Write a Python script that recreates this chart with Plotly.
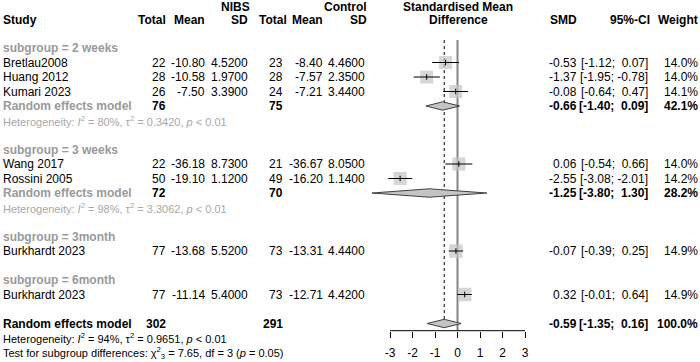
import plotly.graph_objects as go

# ---------------- data ----------------
groups = ["2 weeks", "3 weeks", "3month", "6month"]
studies = ["Bretlau2008", "Huang 2012", "Kumari 2023", "Wang 2017", "Rossini 2005",
           "Burkhardt 2023", "Burkhardt 2023"]
study_group = ["2 weeks", "2 weeks", "2 weeks", "3 weeks", "3 weeks", "3month", "6month"]
nibs_total = [22, 28, 26, 22, 50, 77, 77]
nibs_mean = [-10.80, -10.58, -7.50, -36.18, -19.10, -13.68, -11.14]
nibs_sd = [4.52, 1.97, 3.39, 8.73, 1.12, 5.52, 5.40]
ctrl_total = [23, 28, 24, 21, 49, 73, 73]
ctrl_mean = [-8.40, -7.57, -7.21, -36.67, -16.20, -13.31, -12.71]
ctrl_sd = [4.46, 2.35, 3.44, 8.05, 1.14, 4.44, 4.42]
smd = [-0.53, -1.37, -0.08, 0.06, -2.55, -0.07, 0.32]
ci_lo = [-1.12, -1.95, -0.64, -0.54, -3.08, -0.39, -0.01]
ci_hi = [0.07, -0.78, 0.47, 0.66, -2.01, 0.25, 0.64]
weight = [14.0, 14.0, 14.1, 14.0, 14.2, 14.9, 14.9]

# subgroup random-effects results
re_groups = ["2 weeks", "3 weeks"]
re_smd = [-0.66, -1.25]
re_lo = [-1.40, -3.80]
re_hi = [0.09, 1.30]
re_weight = [42.1, 28.2]
re_ntot = [76, 72]
re_ctot = [75, 70]
re_i2 = [80, 98]
re_tau2 = [0.3420, 3.3062]
re_p = ["&lt; 0.01", "&lt; 0.01"]

# overall
all_smd, all_lo, all_hi, all_w = -0.59, -1.35, 0.16, 100.0
all_ntot, all_ctot = 302, 291
all_i2, all_tau2, all_p = 94, 0.9651, "&lt; 0.01"
test_chi2, test_df, test_p = 7.65, 3, 0.05

axis_ticks = [-3, -2, -1, 0, 1, 2, 3]

# ---------------- layout constants ----------------
W, H = 700, 362
ROW0, ROWH = 48.0, 14.5            # pixel y of row 0 and row height
X0PIX, XUNIT = 457.5, 22.5         # pixel x of SMD=0 and pixels per unit
AXIS_Y = 330.7
FONT = "Arial, Liberation Sans, sans-serif"
GREY_LBL = "#9a9a9a"
GREY_HET = "#a8a8a8"
SQ_COL = "#c4c4c4"

def kpix(p):  # pixel y -> row coordinate
    return (p - ROW0) / ROWH

def fmt_ci(lo, hi):
    def f(v):
        s = f"{v:.2f}"
        return s if v < 0 else "\u00a0" + s
    return f"[{f(lo)}; {f(hi)}]"

# assign rows
rows_study = []
rows_label = {}
rows_re = {}
k = 0
for g in groups:
    rows_label[g] = k
    k += 1
    for i, sg in enumerate(study_group):
        if sg == g:
            rows_study.append((i, k))
            k += 1
    if g in re_groups:
        rows_re[g] = k
        k += 2
    k += 1
row_all = k

ann = []

def txt(x, y, s, anchor="left", size=12, color="black"):
    ann.append(dict(x=x, y=y, xref="x", yref="y", text=s, showarrow=False,
                    xanchor=anchor, yanchor="middle", borderpad=0, borderwidth=0,
                    font=dict(family=FONT, size=size, color=color)))

# headers
h1, h2 = kpix(7), kpix(20)
txt(250, h1, "<b>NIBS</b>", "right")
txt(367, h1, "<b>Control</b>", "right")
txt(458, h1, "<b>Standardised Mean</b>", "center")
txt(3, h2, "<b>Study</b>")
txt(166, h2, "<b>Total</b>", "right")
txt(205, h2, "<b>Mean</b>", "right")
txt(248, h2, "<b>SD</b>", "right")
txt(287, h2, "<b>Total</b>", "right")
txt(323, h2, "<b>Mean</b>", "right")
txt(367, h2, "<b>SD</b>", "right")
txt(458, h2, "<b>Difference</b>", "center")
txt(577, h2, "<b>SMD</b>", "right")
txt(650, h2, "<b>95%-CI</b>", "right")
txt(698, h2, "<b>Weight</b>", "right")

for g in groups:
    txt(3, rows_label[g], f"<b>subgroup = {g}</b>", color=GREY_LBL)

for i, r in rows_study:
    txt(3, r, studies[i])
    txt(166, r, f"{nibs_total[i]}", "right")
    txt(205, r, f"{nibs_mean[i]:.2f}", "right")
    txt(248, r, f"{nibs_sd[i]:.4f}", "right")
    txt(283, r, f"{ctrl_total[i]}", "right")
    txt(323, r, f"{ctrl_mean[i]:.2f}", "right")
    txt(365, r, f"{ctrl_sd[i]:.4f}", "right")
    txt(577, r, f"{smd[i]:.2f}", "right")
    txt(648, r, fmt_ci(ci_lo[i], ci_hi[i]), "right")
    txt(698, r, f"{weight[i]:.1f}%", "right")

for j, g in enumerate(re_groups):
    r = rows_re[g]
    txt(3, r, "<b>Random effects model</b>", color=GREY_LBL)
    txt(166, r, f"<b>{re_ntot[j]}</b>", "right")
    txt(283, r, f"<b>{re_ctot[j]}</b>", "right")
    txt(577, r, f"<b>{re_smd[j]:.2f}</b>", "right")
    txt(648, r, "<b>" + fmt_ci(re_lo[j], re_hi[j]) + "</b>", "right")
    txt(698, r, f"<b>{re_weight[j]:.1f}%</b>", "right")
    txt(3, r + 1, f"Heterogeneity: <i>I</i><sup>2</sup> = {re_i2[j]}%, "
                  f"τ<sup>2</sup> = {re_tau2[j]:.4f}, <i>p</i> {re_p[j]}",
        size=11, color=GREY_HET)

txt(3, row_all, "<b>Random effects model</b>")
txt(166, row_all, f"<b>{all_ntot}</b>", "right")
txt(283, row_all, f"<b>{all_ctot}</b>", "right")
txt(577, row_all, f"<b>{all_smd:.2f}</b>", "right")
txt(648, row_all, "<b>" + fmt_ci(all_lo, all_hi) + "</b>", "right")
txt(698, row_all, f"<b>{all_w:.1f}%</b>", "right")
txt(3, row_all + 1, f"Heterogeneity: <i>I</i><sup>2</sup> = {all_i2}%, "
                    f"τ<sup>2</sup> = {all_tau2:.4f}, <i>p</i> {all_p}", size=11)
txt(3, row_all + 2, f"Test for subgroup differences: χ<sup>2</sup><sub>{test_df}</sub> = "
                    f"{test_chi2:.2f}, df = {test_df} (<i>p</i> = {test_p:.2f})", size=11)

# ---------------- forest traces ----------------
fig = go.Figure()
xa2 = "x2"; ya2 = "y2"
top_k = kpix(40)
bot_k = kpix(AXIS_Y)

# reference line at 0 (solid grey)
fig.add_trace(go.Scatter(x=[0, 0], y=[top_k, bot_k], mode="lines",
                         line=dict(color="#858585", width=2), xaxis=xa2, yaxis=ya2,
                         hoverinfo="skip", showlegend=False))
# overall effect dotted line
fig.add_trace(go.Scatter(x=[all_smd, all_smd], y=[top_k, row_all - 0.3], mode="lines",
                         line=dict(color="black", width=1, dash="dot"), xaxis=xa2, yaxis=ya2,
                         hoverinfo="skip", showlegend=False))

sy = [r for _, r in rows_study]
sx = [smd[i] for i, _ in rows_study]
sw = [weight[i] for i, _ in rows_study]
fig.add_trace(go.Scatter(x=sx, y=sy, mode="markers",
                         marker=dict(symbol="square", color=SQ_COL,
                                     size=[13 * (w / 14.0) ** 0.5 for w in sw],
                                     line=dict(width=0)),
                         xaxis=xa2, yaxis=ya2, hoverinfo="skip", showlegend=False))
lx, ly = [], []
for i, r in rows_study:
    lx += [ci_lo[i], ci_hi[i], None]
    ly += [r, r, None]
fig.add_trace(go.Scatter(x=lx, y=ly, mode="lines", line=dict(color="black", width=1),
                         xaxis=xa2, yaxis=ya2, hoverinfo="skip", showlegend=False))
fig.add_trace(go.Scatter(x=sx, y=sy, mode="markers",
                         marker=dict(symbol="line-ns", size=4, line=dict(color="black", width=1)),
                         xaxis=xa2, yaxis=ya2, hoverinfo="skip", showlegend=False))

# diamonds
dh = 0.29
dx, dy = [], []
diam = [(re_smd[j], re_lo[j], re_hi[j], rows_re[g]) for j, g in enumerate(re_groups)]
diam.append((all_smd, all_lo, all_hi, row_all))
for est, lo, hi, r in diam:
    dx += [lo, est, hi, est, lo, None]
    dy += [r, r - dh, r, r + dh, r, None]
fig.add_trace(go.Scatter(x=dx, y=dy, mode="lines", fill="toself", fillcolor=SQ_COL,
                         line=dict(color="#404040", width=1),
                         xaxis=xa2, yaxis=ya2, hoverinfo="skip", showlegend=False))

ydom_bot = (H - AXIS_Y) / H
xr_lo = (340 - X0PIX) / XUNIT
xr_hi = (575 - X0PIX) / XUNIT

fig.update_layout(
    width=W, height=H, margin=dict(l=0, r=0, t=0, b=0),
    paper_bgcolor="white", plot_bgcolor="rgba(0,0,0,0)",
    font=dict(family=FONT, size=12, color="black"),
    showlegend=False,
    xaxis=dict(range=[0, W], domain=[0, 1], visible=False, fixedrange=True),
    yaxis=dict(range=[kpix(H), kpix(0)], domain=[0, 1], visible=False, fixedrange=True),
    xaxis2=dict(range=[xr_lo, xr_hi], domain=[340 / W, 575 / W], anchor="y2",
                showgrid=False, zeroline=False, showline=False,
                ticks="outside", ticklen=6, tickwidth=1, tickcolor="black",
                ticklabelstandoff=5,
                tickvals=axis_ticks, ticktext=[str(t) for t in axis_ticks],
                tickfont=dict(family=FONT, size=12, color="black"), fixedrange=True),
    yaxis2=dict(range=[kpix(AXIS_Y), kpix(0)], domain=[ydom_bot, 1], anchor="x2",
                visible=False, fixedrange=True),
    annotations=ann,
    shapes=[dict(type="line", xref="x2", yref="paper", x0=axis_ticks[0], x1=axis_ticks[-1],
                 y0=ydom_bot, y1=ydom_bot, line=dict(color="black", width=1))],
)

fig.write_html("out.html", config={"displayModeBar": False},
               post_script="document.body.style.margin='0';"
                           "document.body.style.overflow='hidden';")
